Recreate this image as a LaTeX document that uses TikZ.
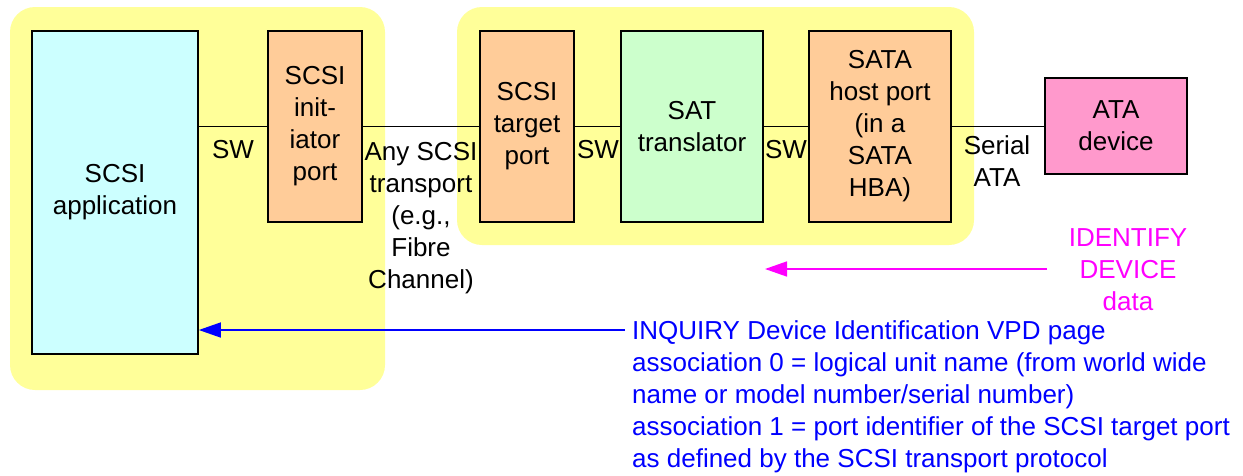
\documentclass[tikz,border=0pt]{standalone}
\usepackage{fontspec}
\setmainfont{Liberation Sans}
\usetikzlibrary{arrows.meta}
\definecolor{grpyellow}{HTML}{FFFF99}
\definecolor{appcyan}{HTML}{CCFFFF}
\definecolor{portorange}{HTML}{FFCC99}
\definecolor{satgreen}{HTML}{CCFFCC}
\definecolor{atapink}{HTML}{FF99CC}
\definecolor{idmagenta}{HTML}{FF00FF}
\definecolor{inqblue}{HTML}{0000FF}
\tikzset{
  bigfont/.style={font=\fontsize{26}{32}\selectfont},
  group/.style={fill=grpyellow, draw=none, rounded corners=25pt},
  blockbox/.style={draw=black, line width=1.6pt, bigfont, align=center, inner sep=0pt},
  lbl/.style={bigfont, align=center, inner sep=0pt},
  wire/.style={draw=black, line width=1.3pt},
  idarrow/.style={draw=idmagenta, line width=1.5pt, -{Triangle[length=22pt,width=15pt]}},
  inqarrow/.style={draw=inqblue, line width=1.5pt, -{Triangle[length=22pt,width=15pt]}},
}
\begin{document}
\begin{tikzpicture}[x=1pt,y=-1pt]
\useasboundingbox (0,0) rectangle (1243,475);
% groups
\fill[group] (10,7) rectangle (385,390);
\fill[group] (457,7) rectangle (974,245);
% blocks
\node[blockbox, fill=appcyan, minimum width=166pt, minimum height=323pt] (app) at (115,192.5) {SCSI\\application};
\node[blockbox, fill=portorange, minimum width=94pt, minimum height=191pt] (init) at (315,126.5) {SCSI\\init-\\iator\\port};
\node[blockbox, fill=portorange, minimum width=94pt, minimum height=191pt] (tgt) at (527,126.5) {SCSI\\target\\port};
\node[blockbox, fill=satgreen, minimum width=142pt, minimum height=191pt] (sat) at (692,126.5) {SAT\\translator};
\node[blockbox, fill=portorange, minimum width=142pt, minimum height=191pt] (hba) at (880,126.5) {SATA\\host port\\(in a\\SATA\\HBA)};
\node[blockbox, fill=atapink, minimum width=142pt, minimum height=96pt] (ata) at (1116,126) {ATA\\device};
% wires
\draw[wire] (app.east |- init.west) -- (init.west);
\draw[wire] (init.east) -- (tgt.west);
\draw[wire] (tgt.east) -- (sat.west);
\draw[wire] (sat.east) -- (hba.west);
\draw[wire] (hba.east) -- (ata.west |- hba.east);
% labels
\node[lbl] (sw1) at (233,150) {SW};
\node[lbl] (trans) at (421,218) {Any SCSI\\transport\\(e.g.,\\Fibre\\Channel)};
\node[lbl] (sw2) at (598,150) {SW};
\node[lbl] (sw3) at (786,150) {SW};
\node[lbl] (serial) at (997,161.5) {Serial\\ATA};
\node[lbl, text=idmagenta] (ident) at (1128,270) {IDENTIFY\\DEVICE\\data};
\node[bigfont, align=left, inner sep=0pt, text=inqblue, anchor=north west] (inq) at (632,320) {INQUIRY Device Identification VPD page\\association 0 = logical unit name (from world wide\\name or model number/serial number)\\association 1 = port identifier of the SCSI target port\\as defined by the SCSI transport protocol};
% arrows
\coordinate (idstart) at (1047,269);
\coordinate (idend) at (765,269);
\coordinate (inqstart) at (625,330);
\draw[idarrow] (idstart) -- (idend);
\draw[inqarrow] (inqstart) -- (app.east |- inqstart);
\end{tikzpicture}
\end{document}
